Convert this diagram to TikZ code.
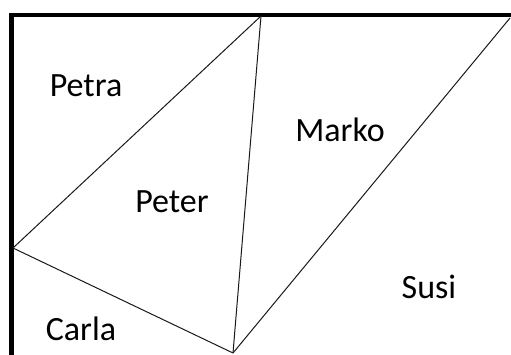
\documentclass[tikz,border=0pt]{standalone}
\usepackage{fontspec}
\setmainfont{Carlito}
\begin{document}
\begin{tikzpicture}[x=1pt,y=1pt,
  frame/.style={line width=4.5pt,line join=miter},
  edge/.style={line width=1pt,black!90},
  lbl/.style={anchor=base,inner sep=0pt,font=\fontsize{34}{40}\selectfont,text=black}]
\useasboundingbox (0,0) rectangle (511,354);
\coordinate (fb) at (11.5,-3);
\coordinate (fc) at (11.5,339);
\coordinate (fr) at (514,339);
\draw[frame] (fb) -- (fc) -- (fr);
\coordinate (L) at (13,106);
\coordinate (A) at (261,338);
\coordinate (B) at (233,1);
\coordinate (R) at (510,336);
\draw[edge] (L) -- (A);
\draw[edge] (A) -- (B);
\draw[edge] (L) -- (B);
\draw[edge] (B) -- (R);
\node[lbl] (petra) at (86,257) {Petra};
\node[lbl] (peter) at (172,142) {Peter};
\node[lbl] (marko) at (340,212) {Marko};
\node[lbl] (susi) at (429,56) {Susi};
\node[lbl] (carla) at (81,14) {Carla};
\end{tikzpicture}
\end{document}
